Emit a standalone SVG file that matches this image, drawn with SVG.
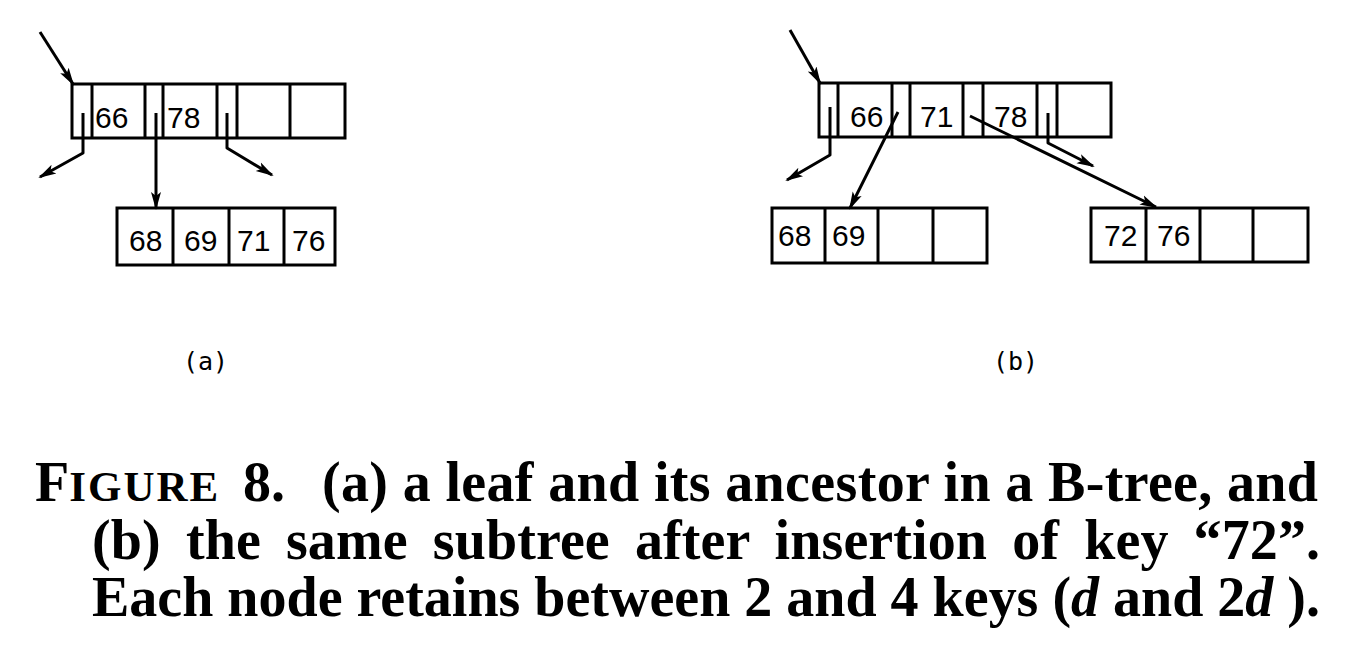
<svg xmlns="http://www.w3.org/2000/svg" width="1360" height="658" viewBox="0 0 1360 658">
<style>
.box{fill:none;stroke:#000;stroke-width:3}
.div{stroke:#000;stroke-width:3}
.k{font-family:"Liberation Sans",Arial,sans-serif;font-size:30px;fill:#000}
.lbl{font-family:"DejaVu Sans Mono","Liberation Mono",monospace;font-size:25px;fill:#000}
.cap{font-family:"Liberation Serif","Times New Roman",serif;font-weight:bold;font-size:56px;fill:#000}
.ptr{fill:none;stroke:#000;stroke-width:3;stroke-linejoin:round;marker-end:url(#ah)}
</style>
<defs>
<marker id="ah" viewBox="0 0 18 12" refX="16" refY="6" markerWidth="18" markerHeight="12" markerUnits="userSpaceOnUse" orient="auto">
<path d="M0,1 L18,6 L0,11 L4,6 z" fill="#000"/>
</marker>
</defs>
<rect width="1360" height="658" fill="#fff"/>

<g id="a-root">
<rect class="box" x="72" y="84" width="273" height="54"/>
<line class="div" x1="92" y1="84" x2="92" y2="138"/>
<line class="div" x1="145" y1="84" x2="145" y2="138"/>
<line class="div" x1="163" y1="84" x2="163" y2="138"/>
<line class="div" x1="217" y1="84" x2="217" y2="138"/>
<line class="div" x1="237" y1="84" x2="237" y2="138"/>
<line class="div" x1="290" y1="84" x2="290" y2="138"/>
<text class="k" x="95" y="128">66</text>
<text class="k" x="167" y="128">78</text>
</g>

<g id="a-leaf">
<rect class="box" x="117" y="208" width="218" height="57"/>
<line class="div" x1="173" y1="208" x2="173" y2="265"/>
<line class="div" x1="229" y1="208" x2="229" y2="265"/>
<line class="div" x1="284" y1="208" x2="284" y2="265"/>
<text class="k" x="129" y="251">68</text>
<text class="k" x="184" y="251">69</text>
<text class="k" x="237" y="251">71</text>
<text class="k" x="292" y="251">76</text>
</g>

<g id="b-root">
<rect class="box" x="819" y="83" width="292" height="54"/>
<line class="div" x1="838" y1="83" x2="838" y2="137"/>
<line class="div" x1="892" y1="83" x2="892" y2="137"/>
<line class="div" x1="910" y1="83" x2="910" y2="137"/>
<line class="div" x1="963" y1="83" x2="963" y2="137"/>
<line class="div" x1="983" y1="83" x2="983" y2="137"/>
<line class="div" x1="1037" y1="83" x2="1037" y2="137"/>
<line class="div" x1="1057" y1="83" x2="1057" y2="137"/>
<text class="k" x="850" y="127">66</text>
<text class="k" x="920" y="127">71</text>
<text class="k" x="994" y="127">78</text>
</g>

<g id="b-leaf-left">
<rect class="box" x="772" y="208" width="215" height="55"/>
<line class="div" x1="825" y1="208" x2="825" y2="263"/>
<line class="div" x1="878" y1="208" x2="878" y2="263"/>
<line class="div" x1="933" y1="208" x2="933" y2="263"/>
<text class="k" x="778" y="246">68</text>
<text class="k" x="832" y="246">69</text>
</g>

<g id="b-leaf-right">
<rect class="box" x="1091" y="208" width="217" height="54"/>
<line class="div" x1="1146" y1="208" x2="1146" y2="262"/>
<line class="div" x1="1200" y1="208" x2="1200" y2="262"/>
<line class="div" x1="1253" y1="208" x2="1253" y2="262"/>
<text class="k" x="1104" y="246">72</text>
<text class="k" x="1157" y="246">76</text>
</g>

<g id="connectors">
<polyline class="ptr" points="40,32 73,84"/>
<polyline class="ptr" points="83,113 83,153 40,177"/>
<polyline class="ptr" points="156,113 156,208"/>
<polyline class="ptr" points="227,113 227,148 272,175"/>
<polyline class="ptr" points="790,30 820,83"/>
<polyline class="ptr" points="830,107 830,155 787,180"/>
<polyline class="ptr" points="898,112 850,208"/>
<polyline class="ptr" points="970,116 1013,137 1156,207"/>
<polyline class="ptr" points="1048,113 1048,143 1093,166"/>
</g>

<g id="labels">
<text class="lbl" x="183" y="370">(a)</text>
<text class="lbl" x="993" y="370">(b)</text>
</g>

<g id="caption">
<text class="cap" x="35" y="501">F<tspan font-size="43px" letter-spacing="2">IGURE</tspan></text>
<text class="cap" x="243" y="501">8.</text>
<text class="cap" x="322" y="501" textLength="996" lengthAdjust="spacing">(a) a leaf and its ancestor in a B-tree, and</text>
<text class="cap" x="92" y="559" word-spacing="11" textLength="1228" lengthAdjust="spacing">(b) the same subtree after insertion of key “72”.</text>
<text class="cap" x="92" y="616" textLength="1228" lengthAdjust="spacing">Each node retains between 2 and 4 keys (<tspan font-style="italic">d</tspan> and 2<tspan font-style="italic">d</tspan> ).</text>
</g>
</svg>
